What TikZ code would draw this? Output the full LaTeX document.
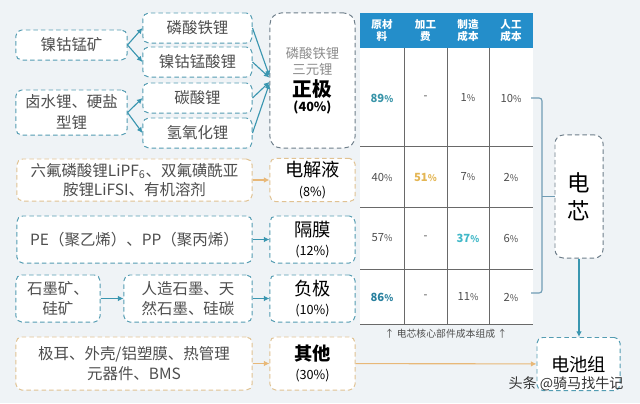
\documentclass[tikz,border=0pt]{standalone}
\usepackage{fontspec}
\setmainfont{Noto Sans CJK SC}
\usetikzlibrary{arrows.meta, positioning, calc}
\definecolor{bgcolor}{RGB}{239,243,246}
\definecolor{boxteal}{RGB}{84,156,178}
\definecolor{boxorange}{RGB}{224,194,146}
\definecolor{boxgray}{RGB}{110,126,138}
\definecolor{arrowteal}{RGB}{58,150,176}
\definecolor{arroworange}{RGB}{232,184,120}
\definecolor{textgray}{RGB}{78,78,78}
\definecolor{lighttext}{RGB}{140,140,140}
\definecolor{headblue}{RGB}{36,142,202}
\definecolor{gridgray}{RGB}{105,105,105}
\definecolor{bracketblue}{RGB}{112,156,180}
\definecolor{cA}{RGB}{56,148,168}
\definecolor{cB}{RGB}{228,182,84}
\definecolor{cC}{RGB}{64,184,200}
\definecolor{cD}{RGB}{40,128,158}
\newcommand{\smallpct}{{\fontsize{6.5}{7}\selectfont\%}}
\tikzset{
  block/.style={
    rectangle,
    rounded corners=4pt,
    draw=boxteal,
    dash pattern=on 3.2pt off 2.2pt,
    line width=0.7pt,
    fill=white,
    align=center,
    text=textgray,
    inner sep=2pt,
    minimum width=2.725cm,
    minimum height=0.75cm,
    font=\fontsize{11}{14}\selectfont
  },
  orangeblock/.style={block, draw=boxorange},
  partbox/.style={block, text=black, minimum width=2.125cm,
    font=\fontsize{13}{14}\selectfont},
  orangepart/.style={partbox, draw=boxorange},
  arrow/.style={-{Latex[length=4pt, width=4pt]}, line width=0.8pt, draw=arrowteal},
  orangearrow/.style={arrow, draw=arroworange},
  tableline/.style={draw=gridgray, line width=0.5pt},
  bracketline/.style={draw=bracketblue, line width=0.8pt, rounded corners=2pt},
  headtext/.style={text=white, align=center, font=\fontsize{7.5}{8.5}\selectfont\bfseries},
  celltext/.style={text=textgray, font=\fontsize{8}{9}\selectfont}
}

\begin{document}
\begin{tikzpicture}[x=0.025cm, y=-0.025cm]
  \fill[bgcolor] (0,0) rectangle (640,403);
  \useasboundingbox (0,0) rectangle (640,403);

  % raw materials -> cathode
  \node[block, minimum width=2.775cm] (ncmore) at (71.5,45) {镍钴锰矿};
  \node[block, minimum width=2.775cm, minimum height=1.125cm, font=\fontsize{11}{15}\selectfont] (liore) at (71.5,112.5) {卤水锂、硬盐\\型锂};
  \node[block] (lfp) at (197.5,28) {磷酸铁锂};
  \node[block] (ncm) at (197.5,62) {镍钴锰酸锂};
  \node[block] (lico) at (197.5,98) {碳酸锂};
  \node[block] (lioh) at (197.5,133) {氢氧化锂};

  \node[partbox, draw=boxgray, rounded corners=8pt, minimum width=2.125cm, minimum height=3.375cm] (cathode) at (312.5,80.5) {};
  \node[text=lighttext, align=center, font=\fontsize{9.5}{11.5}\selectfont] (cathodesub) at (312.5,61.5) {磷酸铁锂\\三元锂};
  \node[font=\fontsize{14}{16}\selectfont\bfseries] (cathodename) at (312.5,89) {正极};
  \node[font=\fontsize{9}{10}\selectfont\bfseries] (cathodepct) at (312.5,107.5) {(40\%)};

  \draw[arrow] (ncmore.east) -- (lfp.west);
  \draw[arrow] (ncmore.east) -- (ncm.west);
  \draw[arrow] (liore.east) -- (lico.west);
  \draw[arrow] (liore.east) -- (lioh.west);
  \draw[arrow] (lfp.east) -- ([yshift=3pt]cathode.west);
  \draw[arrow] (ncm.east) -- ([yshift=2pt]cathode.west);
  \draw[arrow] (lico.east) -- ([yshift=-1pt]cathode.west);
  \draw[arrow] (lioh.east) -- ([yshift=-2pt]cathode.west);

  % electrolyte, separator, anode, others
  \node[orangeblock, minimum width=5.875cm, minimum height=1.05cm] (elecraw) at (134.5,180) {六氟磷酸锂LiPF\textsubscript{6}、双氟磺酰亚\\胺锂LiFSI、有机溶剂};
  \node[orangepart, minimum height=1.05cm] (elec) at (312.5,180) {电解液\\{\fontsize{9}{10}\selectfont (8\%)}};
  \node[block, minimum width=5.875cm, minimum height=1.175cm] (sepraw) at (134.5,239.5) {PE（聚乙烯）、PP（聚丙烯）};
  \node[partbox, minimum height=1.175cm] (sep) at (312.5,239.5) {隔膜\\{\fontsize{9}{10}\selectfont (12\%)}};
  \node[block, minimum width=2.1cm, minimum height=1.175cm] (graphore) at (58,298.5) {石墨矿、\\硅矿};
  \node[block, minimum width=3.2cm, minimum height=1.175cm] (graphite) at (188,298.5) {人造石墨、天\\然石墨、硅碳};
  \node[partbox, minimum height=1.175cm] (anode) at (312.5,298.5) {负极\\{\fontsize{9}{10}\selectfont (10\%)}};
  \node[orangeblock, minimum width=5.9cm, minimum height=1.325cm] (otherraw) at (134,363.5) {极耳、外壳/铝塑膜、热管理\\元器件、BMS};
  \node[orangepart, minimum height=1.325cm] (other) at (312.5,363.5) {\textbf{其他}\\{\fontsize{9}{10}\selectfont (30\%)}};

  \draw[orangearrow] (elecraw) -- (elec);
  \draw[arrow] (sepraw) -- (sep);
  \draw[arrow] (graphore) -- (graphite);
  \draw[arrow] (graphite) -- (anode);
  \draw[orangearrow] (otherraw) -- (other);

  % cost table
  \fill[headblue] (360,13) rectangle (533,48);
  \fill[white] (360,48) rectangle (533,324);
  \foreach \x in {404,447,489}
    \draw[tableline] (\x,48) -- (\x,324);
  \foreach \y in {146,207,269,324}
    \draw[tableline] (360,\y) -- (533,\y);
  \foreach \x/\t [count=\i] in {382/原材\\料, 425.5/加工\\费, 468/制造\\成本, 511/人工\\成本}
    \node[headtext] (h\i) at (\x,30.5) {\t};
  \foreach \y/\a/\b/\c/\d [count=\r] in {
      98/{\textbf{\textcolor{cA}{89\smallpct}}}/-/{1\smallpct}/{10\smallpct},
      177/{40\smallpct}/{\textbf{\textcolor{cB}{51\smallpct}}}/{7\smallpct}/{2\smallpct},
      238/{57\smallpct}/-/{\textbf{\textcolor{cC}{37\smallpct}}}/{6\smallpct},
      297/{\textbf{\textcolor{cD}{86\smallpct}}}/-/{11\smallpct}/{2\smallpct}} {
    \node[celltext] (c\r-1) at (382,\y) {\a};
    \node[celltext] (c\r-2) at (425.5,\y) {\b};
    \node[celltext] (c\r-3) at (468,\y) {\c};
    \node[celltext] (c\r-4) at (511,\y) {\d};
  }
  \node[text=textgray, font=\fontsize{7}{8}\selectfont] (caption) at (446,334) {↑ 电芯核心部件成本组成 ↑};

  % cell and pack
  \node[partbox, draw=boxgray, rounded corners=6pt, minimum width=1.2cm, minimum height=3.075cm, font=\fontsize{16}{20}\selectfont] (cell) at (579,196.5) {电\\芯};
  \node[partbox, minimum width=2.075cm, minimum height=1.325cm, font=\fontsize{13}{14}\selectfont] (pack) at (578.5,364) {电池组};

  \coordinate (brtop) at (531,98);
  \coordinate (brbot) at (531,293);
  \draw[bracketline] (brtop) -- (542,98) -- (542,293) -- (brbot);
  \draw[bracketline] (542,196.5) -- (cell.west);
  \draw[arrow, line width=1.1pt] (cell.south) -- (cell.south |- pack.north);
  \draw[orangearrow] (other) -- (pack);

  \node[text=black!80, font=\fontsize{10}{12}\selectfont] (mark) at (566,384) {头条 @骑马找牛记};
\end{tikzpicture}
\end{document}
